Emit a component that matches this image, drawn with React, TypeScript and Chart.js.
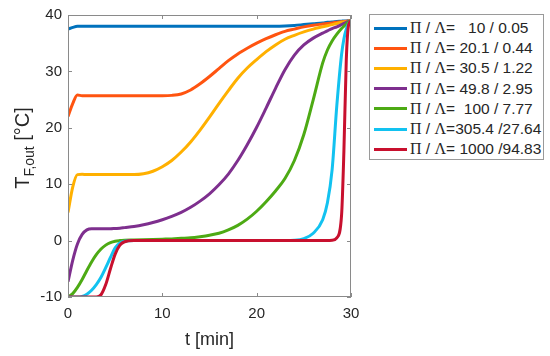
import React, { useEffect, useRef } from "react";
import { Chart, registerables } from "chart.js";
Chart.register(...registerables);

// time axis [min]
const times = [0, 0.5, 1, 1.5, 2, 2.5, 3, 3.5, 4, 4.5, 5, 5.5, 6, 7, 8, 9, 10, 11, 12, 13, 14, 15, 16, 17, 18, 19, 20, 21, 22, 23, 24, 25, 26, 27, 27.5, 28, 28.5, 29, 29.25, 29.5, 29.75, 30];

const series10 = [37.5, 37.8, 38, 38, 38, 38, 38, 38, 38, 38, 38, 38, 38, 38, 38, 38, 38, 38, 38, 38, 38, 38, 38, 38, 38, 38, 38, 38, 38, 38.05, 38.15, 38.3, 38.45, 38.6, 38.7, 38.75, 38.85, 38.9, 38.95, 38.95, 39, 39];
const series20 = [22, 24.3, 25.8, 25.7, 25.7, 25.7, 25.7, 25.7, 25.7, 25.7, 25.7, 25.7, 25.7, 25.7, 25.7, 25.7, 25.7, 25.75, 26.0, 26.7, 27.8, 29.1, 30.5, 31.9, 33.1, 34.1, 35.0, 35.8, 36.5, 37.1, 37.5, 37.9, 38.2, 38.4, 38.5, 38.6, 38.7, 38.8, 38.85, 38.9, 38.95, 39];
const series30 = [5, 9.5, 11.7, 11.75, 11.7, 11.7, 11.7, 11.7, 11.7, 11.7, 11.7, 11.7, 11.7, 11.7, 11.85, 12.3, 13.1, 14.2, 15.7, 17.5, 19.6, 21.9, 24.3, 26.6, 28.8, 30.6, 32.1, 33.5, 34.7, 35.7, 36.4, 37.0, 37.5, 37.9, 38.1, 38.3, 38.5, 38.7, 38.75, 38.8, 38.9, 39];
const series50 = [-7.3, -3.5, -0.6, 1.1, 1.9, 2.1, 2.1, 2.1, 2.1, 2.1, 2.15, 2.2, 2.3, 2.5, 2.8, 3.2, 3.7, 4.3, 5.0, 5.9, 7.0, 8.3, 9.9, 11.8, 14.2, 17.0, 20.1, 23.5, 27.0, 30.3, 32.9, 34.7, 35.9, 36.8, 37.2, 37.6, 37.9, 38.3, 38.5, 38.7, 38.85, 39];
const series100 = [-10, -9.4, -8.3, -6.9, -5.3, -3.8, -2.5, -1.5, -0.8, -0.35, -0.1, 0, 0.05, 0.1, 0.15, 0.2, 0.25, 0.3, 0.4, 0.5, 0.7, 0.95, 1.3, 1.9, 2.7, 3.8, 5.2, 6.9, 8.8, 11.0, 14.2, 18.8, 25.0, 31.5, 33.8, 35.4, 36.6, 37.6, 38.0, 38.4, 38.75, 39];
const series305 = [-10, -10, -10, -9.9, -9.5, -8.8, -7.8, -6.5, -4.8, -3.0, -1.3, -0.4, -0.1, 0, 0, 0, 0, 0, 0, 0, 0, 0, 0, 0, 0, 0, 0, 0, 0, 0, 0.05, 0.35, 1.3, 3.7, 6.7, 12.6, 24, 33, 35.8, 37.5, 38.5, 39];
const series1000 = [-10, -10, -10, -10, -10, -10, -10, -9.6, -7.8, -5.0, -2.4, -0.8, -0.2, 0, 0, 0, 0, 0, 0, 0, 0, 0, 0, 0, 0, 0, 0, 0, 0, 0, 0, 0, 0, 0, 0, 0.05, 0.5, 4.5, 16, 32, 38.3, 39];

const seriesValues = [series10, series20, series30, series50, series100, series305, series1000];
const seriesLabels = [
  "Π / Λ=   10 / 0.05",
  "Π / Λ= 20.1 / 0.44",
  "Π / Λ= 30.5 / 1.22",
  "Π / Λ= 49.8 / 2.95",
  "Π / Λ=  100 / 7.77",
  "Π / Λ=305.4 /27.64",
  "Π / Λ= 1000 /94.83",
];
const seriesColors = ["#0072BD", "#FF5410", "#FFB000", "#7E2F8E", "#4DAA14", "#12C2F0", "#C8102E"];

const xTickStep = 10;
const yTickStep = 10;
const xMin = 0, xMax = 30, yMin = -10, yMax = 40;

const SANS = "'Liberation Sans', Arial, sans-serif";
const SERIF = "'Liberation Serif', 'Times New Roman', serif";
const TEXT = "#262626";
const AXIS = "#8a8a8a";

const framePlugin = {
  id: "frame",
  afterDatasetsDraw(chart: any) {
    const { ctx, chartArea: a, scales } = chart;
    const x = scales.x, y = scales.y;
    ctx.save();
    ctx.strokeStyle = AXIS;
    ctx.lineWidth = 1;
    ctx.strokeRect(a.left + 0.5, a.top + 0.5, a.right - a.left - 1, a.bottom - a.top - 1);
    const L = 4;
    ctx.beginPath();
    x.ticks.forEach((t: any) => {
      const px = Math.round(x.getPixelForValue(t.value)) + 0.5;
      ctx.moveTo(px, a.bottom); ctx.lineTo(px, a.bottom - L);
      ctx.moveTo(px, a.top); ctx.lineTo(px, a.top + L);
    });
    y.ticks.forEach((t: any) => {
      const py = Math.round(y.getPixelForValue(t.value)) + 0.5;
      ctx.moveTo(a.left, py); ctx.lineTo(a.left + L, py);
      ctx.moveTo(a.right, py); ctx.lineTo(a.right - L, py);
    });
    ctx.stroke();

    // axis titles
    ctx.fillStyle = TEXT;
    ctx.textBaseline = "middle";
    ctx.textAlign = "center";
    ctx.font = `18px ${SANS}`;
    ctx.fillText("t [min]", (a.left + a.right) / 2, 340);

    // y title with subscript, rotated
    ctx.translate(22, 148);
    ctx.rotate(-Math.PI / 2);
    ctx.textAlign = "left";
    ctx.textBaseline = "alphabetic";
    const bigFont = `20px ${SANS}`;
    const subFont = `14px ${SANS}`;
    ctx.font = bigFont;
    const wT = ctx.measureText("T").width;
    const wRest = ctx.measureText(" [°C]").width;
    ctx.font = subFont;
    const wSub = ctx.measureText("F,out").width;
    const total = wT + wSub + wRest;
    let cx = -total / 2;
    ctx.font = bigFont;
    ctx.fillText("T", cx, 7);
    cx += wT;
    ctx.font = subFont;
    ctx.fillText("F,out", cx, 12);
    cx += wSub;
    ctx.font = bigFont;
    ctx.fillText(" [°C]", cx, 7);
    ctx.restore();
  },
};

function LegendLabel({ text }: { text: string }) {
  const parts = text.split(/([ΠΛ])/);
  return (
    <span style={{ whiteSpace: "pre" }}>
      {parts.map((p, i) =>
        p === "Π" || p === "Λ" ? (
          <span key={i} style={{ fontFamily: SERIF, fontSize: 16 }}>{p}</span>
        ) : (
          <span key={i}>{p}</span>
        )
      )}
    </span>
  );
}

export default function App() {
  const canvasRef = useRef<HTMLCanvasElement | null>(null);

  useEffect(() => {
    const canvas = canvasRef.current;
    if (!canvas) return;
    const chart = new Chart(canvas, {
      type: "line",
      data: {
        labels: times,
        datasets: seriesValues.map((vals, i) => ({
          label: seriesLabels[i],
          data: vals.map((v, j) => ({ x: times[j], y: v })),
          borderColor: seriesColors[i],
          backgroundColor: seriesColors[i],
          borderWidth: 3,
          pointRadius: 0,
          cubicInterpolationMode: "monotone" as const,
          fill: false,
          order: seriesValues.length - i,
        })),
      },
      options: {
        animation: false,
        responsive: false,
        devicePixelRatio: 1,
        layout: { padding: { top: 15, right: 199, left: 0, bottom: 0 } },
        plugins: { legend: { display: false }, tooltip: { enabled: false } },
        scales: {
          x: {
            type: "linear",
            min: xMin,
            max: xMax,
            grid: { display: false, drawTicks: false },
            border: { display: false },
            ticks: { stepSize: xTickStep, color: TEXT, font: { family: SANS, size: 15 }, padding: 8, maxRotation: 0 },
            afterFit: (s: any) => { s.height = 59; },
          },
          y: {
            type: "linear",
            min: yMin,
            max: yMax,
            grid: { display: false, drawTicks: false },
            border: { display: false },
            ticks: { stepSize: yTickStep, color: TEXT, font: { family: SANS, size: 15 }, padding: 6 },
            afterFit: (s: any) => { s.width = 68; },
          },
        },
      },
      plugins: [framePlugin],
    });
    return () => chart.destroy();
  }, []);

  return (
    <div style={{ position: "fixed", left: 0, top: 0, width: 550, height: 356, background: "#fff" }}>
      <canvas ref={canvasRef} width={550} height={356} style={{ width: 550, height: 356, display: "block" }} />
      <div
        style={{
          position: "absolute",
          left: 369,
          top: 14,
          width: 173,
          height: 144,
          border: "1px solid #9a9a9a",
          background: "#fff",
          fontFamily: SANS,
          fontSize: 15.5,
          color: TEXT,
        }}
      >
        {seriesLabels.map((lab, i) => (
          <div
            key={i}
            style={{ position: "absolute", left: 0, top: 3 + i * 20.2, height: 20, display: "flex", alignItems: "center" }}
          >
            <div style={{ marginLeft: 4, width: 33, height: 3, background: seriesColors[i] }} />
            <div style={{ marginLeft: 3 }}>
              <LegendLabel text={lab} />
            </div>
          </div>
        ))}
      </div>
    </div>
  );
}
